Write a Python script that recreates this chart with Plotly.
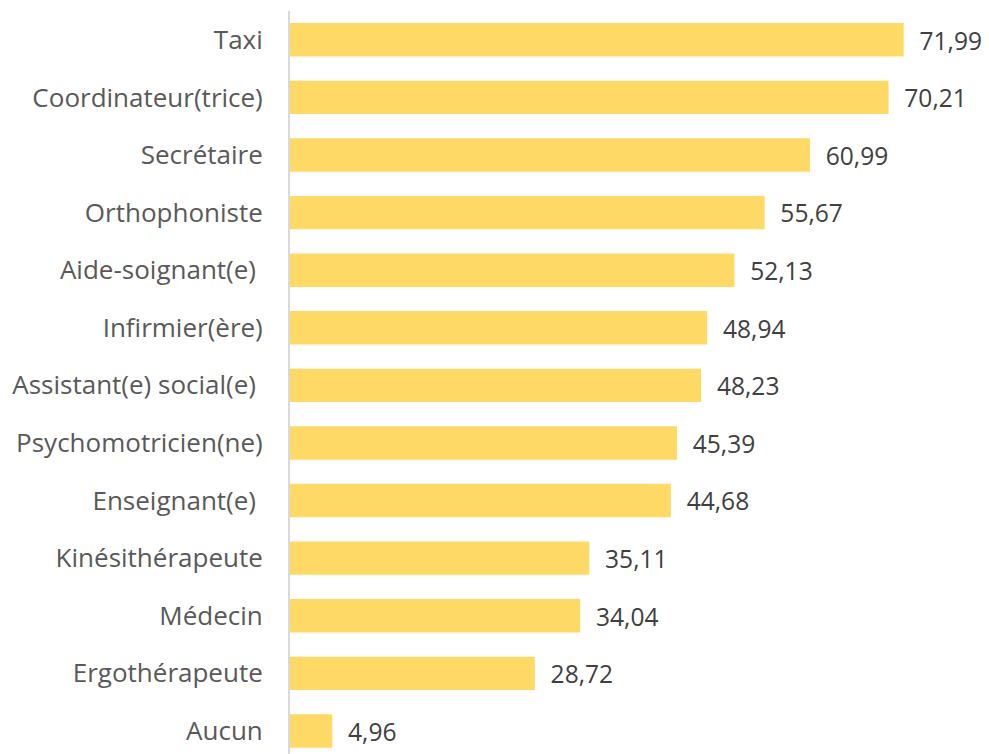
import plotly.graph_objects as go

categories = ["Taxi", "Coordinateur(trice)", "Secrétaire", "Orthophoniste", "Aide-soignant(e) ",
              "Infirmier(ère)", "Assistant(e) social(e) ", "Psychomotricien(ne)", "Enseignant(e) ",
              "Kinésithérapeute", "Médecin", "Ergothérapeute", "Aucun"]
values = [71.99, 70.21, 60.99, 55.67, 52.13, 48.94, 48.23, 45.39, 44.68, 35.11, 34.04, 28.72, 4.96]

cats = categories[::-1]
vals = values[::-1]
labels = ["  " + f"{v:.2f}".replace(".", ",") for v in vals]

fig = go.Figure(go.Bar(
    x=vals, y=cats, orientation="h",
    marker=dict(color="#FFD966", line=dict(width=0)),
    text=labels, textposition="outside", cliponaxis=False,
    textfont=dict(family="Open Sans", size=25, color="#404040"),
    width=0.58,
    hoverinfo="skip",
))

fig.update_layout(
    width=989, height=754,
    margin=dict(l=290, r=17, t=11, b=0, autoexpand=False),
    paper_bgcolor="white", plot_bgcolor="white",
    showlegend=False,
    font=dict(family="Open Sans", size=24, color="#595959"),
)
fig.update_xaxes(range=[0, 80], showgrid=False, zeroline=False, showticklabels=False,
                 showline=False, automargin=False)
fig.update_yaxes(range=[-0.40, 12.50], showline=True, linecolor="#D9D9D9", linewidth=2,
                 ticks="", ticklabelstandoff=20, automargin=False,
                 tickfont=dict(family="Open Sans", size=26, color="#595959"))

fig.write_html("out.html", config={"displayModeBar": False},
               post_script="document.body.style.margin='0';document.body.style.overflow='hidden';")
